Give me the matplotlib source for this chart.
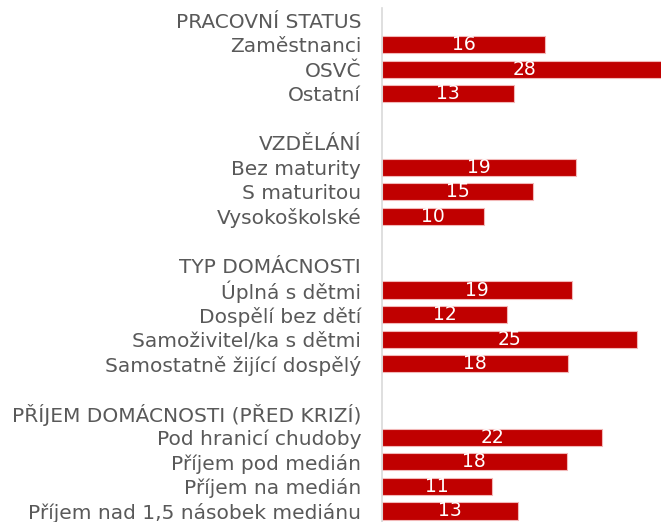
import matplotlib
matplotlib.use("Agg")
import matplotlib.pyplot as plt

# ---- data ----
headers = ["PRACOVNÍ STATUS", "VZDĚLÁNÍ", "TYP DOMÁCNOSTI",
           "PŘÍJEM DOMÁCNOSTI (PŘED KRIZÍ)"]
status_labels = ["Zaměstnanci", "OSVČ", "Ostatní"]
status_values = [16.0, 28.0, 12.9]
edu_labels = ["Bez maturity", "S maturitou", "Vysokoškolské"]
edu_values = [19.0, 14.8, 10.0]
household_labels = ["Úplná s dětmi", "Dospělí bez dětí",
                    "Samoživitel/ka s dětmi", "Samostatně žijící dospělý"]
household_values = [18.6, 12.3, 25.0, 18.2]
income_labels = ["Pod hranicí chudoby", "Příjem pod medián",
                 "Příjem na medián", "Příjem nad 1,5 násobek mediánu"]
income_values = [21.6, 18.1, 10.8, 13.3]

groups = [
    (headers[0], status_labels, status_values),
    (headers[1], edu_labels, edu_values),
    (headers[2], household_labels, household_values),
    (headers[3], income_labels, income_values),
]

# build rows
row_labels = []
bar_pos, bar_vals = [], []
for gi, (h, labs, vals) in enumerate(groups):
    if gi > 0:
        row_labels.append("")
    row_labels.append(h)
    for l, v in zip(labs, vals):
        bar_pos.append(len(row_labels))
        bar_vals.append(v)
        row_labels.append(l)

W, H = 661, 522
fig = plt.figure(figsize=(W / 100, H / 100), dpi=100)
ax_left = 382 / W
ax = fig.add_axes([ax_left, 0, 1 - ax_left, 1 - 8 / H])

font = "DejaVu Sans"
gray = "#595959"
red = "#C00000"

bars = ax.barh(bar_pos, bar_vals, height=0.7, color=red,
               edgecolor="#F2B8B8", linewidth=0.8)
for p, v in zip(bar_pos, bar_vals):
    ax.text(v / 2, p, f"{v:.0f}", ha="center", va="center", color="white",
            fontsize=13.5, family=font)

ax.set_xlim(0, 279 / 10.2)
ax.set_ylim(20 + 11 / 24.55, -12 / 24.55)
ax.set_yticks(range(len(row_labels)))
ax.set_yticklabels(row_labels, fontsize=14.5, color=gray, family=font)
ax.tick_params(axis="y", length=0, pad=15)
ax.set_xticks([])
for s in ["top", "right", "bottom"]:
    ax.spines[s].set_visible(False)
ax.spines["left"].set_color("#D9D9D9")
ax.spines["left"].set_linewidth(1.2)
ax.patch.set_alpha(0)

fig.savefig("out.png", dpi=100)
